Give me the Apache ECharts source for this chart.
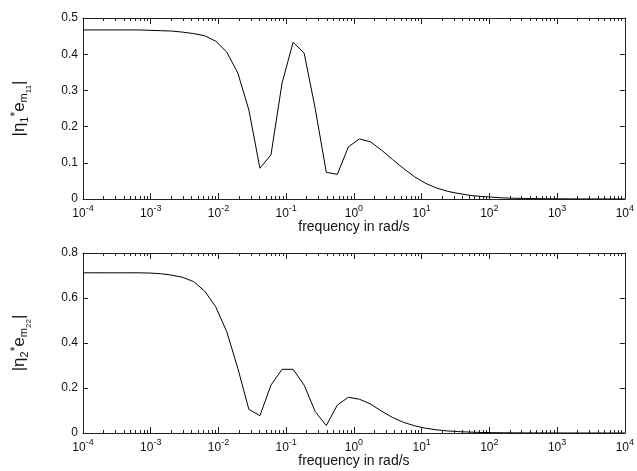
<!DOCTYPE html>
<html>
<head>
<meta charset="utf-8">
<script src="https://cdn.jsdelivr.net/npm/echarts@6/dist/echarts.min.js"></script>
<style>
  html, body { margin: 0; padding: 0; background: #fff; }
  #chart { width: 637px; height: 471px; }
</style>
</head>
<body>
<div id="chart"></div>
<script>
// frequency grid in rad/s (50 log spaced points, 1e-4 .. 1e4)
const freq = [
  1.000e-4, 1.456e-4, 2.121e-4, 3.089e-4, 4.498e-4, 6.551e-4, 9.541e-4,
  1.389e-3, 2.024e-3, 2.947e-3, 4.292e-3, 6.251e-3, 9.103e-3,
  1.326e-2, 1.931e-2, 2.812e-2, 4.095e-2, 5.964e-2, 8.685e-2,
  0.1265, 0.1842, 0.2683, 0.3907, 0.5690, 0.8286,
  1.207, 1.758, 2.560, 3.728, 5.429, 7.906,
  11.51, 16.77, 24.42, 35.56, 51.79, 75.43,
  109.9, 160.0, 233.0, 339.3, 494.2, 719.7,
  1048, 1526, 2223, 3237, 4715, 6866, 10000
];
// |eta1 * e_m11|
const em11 = [
  0.467, 0.467, 0.467, 0.467, 0.467, 0.467, 0.466, 0.465, 0.464, 0.461,
  0.457, 0.451, 0.436, 0.406, 0.348, 0.246, 0.085, 0.122, 0.320, 0.433,
  0.403, 0.250, 0.074, 0.068, 0.144, 0.166, 0.158, 0.135, 0.109, 0.084,
  0.061, 0.043, 0.030, 0.021, 0.015, 0.010, 0.007, 0.005, 0.003, 0.002,
  0.0015, 0.001, 0.0007, 0.0005, 0.0003, 0.0002, 0.00015, 0.0001, 0.00007, 0.00005
];
// |eta2 * e_m22|
const em22 = [
  0.712, 0.712, 0.712, 0.712, 0.712, 0.712, 0.711, 0.708, 0.702, 0.692,
  0.673, 0.631, 0.561, 0.450, 0.288, 0.105, 0.077, 0.213, 0.283, 0.283,
  0.213, 0.095, 0.033, 0.124, 0.159, 0.150, 0.129, 0.097, 0.069, 0.047,
  0.032, 0.021, 0.014, 0.009, 0.006, 0.004, 0.0025, 0.0016, 0.001, 0.0007,
  0.0004, 0.0003, 0.0002, 0.00013, 0.00009, 0.00006, 0.00004, 0.00003, 0.00002, 0.00001
];
const yMax = [0.5, 0.8];
const yStep = [0.1, 0.2];

const font = 'Liberation Sans, Arial, Helvetica, sans-serif';
const ink = '#111';
const axisCol = '#222';

function pairs(ys) {
  return freq.map((f, i) => [f, ys[i]]);
}

function xAx(grid, pos) {
  const bottom = pos === 'bottom';
  return {
    type: 'log',
    logBase: 10,
    gridIndex: grid,
    position: pos,
    min: 1e-4,
    max: 1e4,
    interval: 1,
    name: bottom ? 'frequency in rad/s' : '',
    nameLocation: 'middle',
    nameGap: 16,
    nameTextStyle: { fontFamily: font, fontSize: 14, color: ink },
    axisLine: { show: true, onZero: false, lineStyle: { color: axisCol, width: 1 } },
    axisTick: { show: true, inside: true, length: 6, lineStyle: { color: axisCol } },
    minorTick: { show: true, splitNumber: 9, length: 3, lineStyle: { color: axisCol } },
    splitLine: { show: false },
    axisLabel: {
      show: bottom,
      margin: 5,
      formatter: function (v) {
        const e = Math.round(Math.log10(v));
        return '{b|10}{s|' + e + '}';
      },
      rich: {
        b: { fontFamily: font, fontSize: 12, color: ink },
        s: { fontFamily: font, fontSize: 9, color: ink, padding: [0, 0, 10, 0] }
      }
    }
  };
}

function yAx(grid, pos) {
  const left = pos === 'left';
  const idx = grid + 1;
  const sub = idx === 1 ? '11' : '22';
  return {
    type: 'value',
    gridIndex: grid,
    position: pos,
    min: 0,
    max: yMax[grid],
    interval: yStep[grid],
    name: left ? '{a||η}{s|' + idx + '}{p|*}{a|e}{m|m}{ss|' + sub + '}{a||}' : '',
    nameLocation: 'middle',
    nameRotate: 90,
    nameGap: 50,
    nameTextStyle: {
      fontFamily: font,
      color: ink,
      rich: {
        a: { fontFamily: font, fontSize: 17, color: ink },
        s: { fontFamily: font, fontSize: 11, color: ink, padding: [10, 0, 0, 0] },
        p: { fontFamily: font, fontSize: 12, color: ink, padding: [0, 0, 7, 0] },
        m: { fontFamily: font, fontSize: 11, color: ink, padding: [9, 0, 0, 0] },
        ss: { fontFamily: font, fontSize: 8, color: ink, padding: [19, 0, 0, 0] }
      }
    },
    axisLine: { show: true, onZero: false, lineStyle: { color: axisCol, width: 1 } },
    axisTick: { show: true, inside: true, length: 5, lineStyle: { color: axisCol } },
    splitLine: { show: false },
    axisLabel: { show: left, margin: 5, fontFamily: font, fontSize: 12, color: ink }
  };
}

const chart = echarts.init(document.getElementById('chart'));
chart.setOption({
  animation: false,
  backgroundColor: '#fff',
  grid: [
    { left: 83, right: 9, top: 18, height: 181 },
    { left: 83, right: 9, top: 253, height: 180 }
  ],
  xAxis: [xAx(0, 'bottom'), xAx(0, 'top'), xAx(1, 'bottom'), xAx(1, 'top')],
  yAxis: [yAx(0, 'left'), yAx(0, 'right'), yAx(1, 'left'), yAx(1, 'right')],
  series: [
    {
      type: 'line', xAxisIndex: 0, yAxisIndex: 0, data: pairs(em11),
      showSymbol: false, lineStyle: { color: '#000', width: 1 }
    },
    {
      type: 'line', xAxisIndex: 2, yAxisIndex: 2, data: pairs(em22),
      showSymbol: false, lineStyle: { color: '#000', width: 1 }
    }
  ]
});
</script>
</body>
</html>
